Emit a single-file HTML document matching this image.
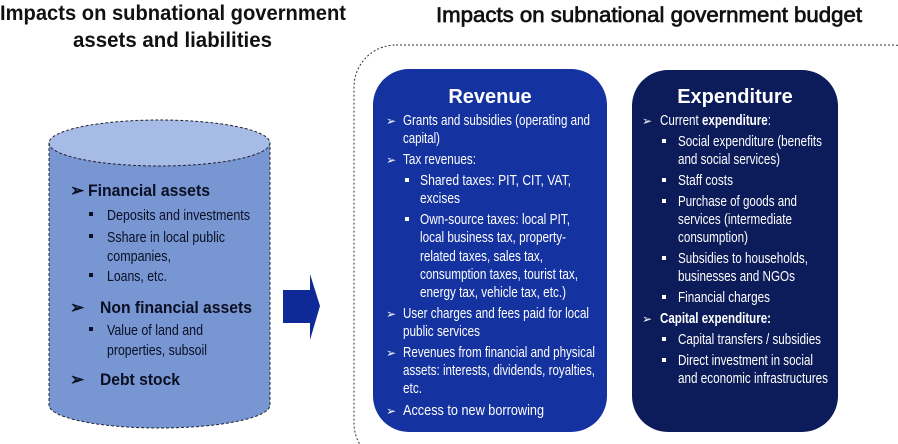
<!DOCTYPE html>
<html><head><meta charset="utf-8"><style>body{margin:0;background:#fff}svg{display:block}text{font-family:"Liberation Sans",sans-serif}</style></head><body>
<svg width="898" height="444" viewBox="0 0 898 444" xmlns="http://www.w3.org/2000/svg">
<g font-weight="bold" font-size="21" fill="#111">
<text x="0" y="20" textLength="346" lengthAdjust="spacingAndGlyphs">Impacts on subnational government</text>
<text x="73" y="47" textLength="199" lengthAdjust="spacingAndGlyphs">assets and liabilities</text>
<text x="436" y="22" textLength="426" lengthAdjust="spacingAndGlyphs" font-weight="normal" stroke="#111" stroke-width="0.7">Impacts on subnational government budget</text>
</g>
<rect x="354" y="45" width="580" height="420" rx="42" fill="none" stroke="#333" stroke-width="1" stroke-dasharray="2,2"/>
<path d="M49,143 L49,405 A110.5,23 0 0 0 270,405 L270,143 Z" fill="#7896d2" stroke="#223" stroke-width="1" stroke-dasharray="3,2"/>
<ellipse cx="159.5" cy="143" rx="110.5" ry="23" fill="#a6bbe6" stroke="#223" stroke-width="1" stroke-dasharray="3,2"/>
<path d="M283,290 L310,290 L310,274 L320,306 L310,340 L310,323 L283,323 Z" fill="#0f2a96"/>
<g fill="#0a0f24">
<g font-weight="bold" font-size="17">
<text x="70" y="196">➢</text><text x="88" y="196" textLength="122" lengthAdjust="spacingAndGlyphs">Financial assets</text>
<text x="70" y="313">➢</text><text x="100" y="313" textLength="152" lengthAdjust="spacingAndGlyphs">Non financial assets</text>
<text x="70" y="385">➢</text><text x="100" y="385" textLength="80" lengthAdjust="spacingAndGlyphs">Debt stock</text>
</g>
<g font-size="14.5">
<rect x="89" y="212" width="4" height="4"/><text x="107" y="220" textLength="143" lengthAdjust="spacingAndGlyphs">Deposits and investments</text>
<rect x="89" y="234" width="4" height="4"/><text x="107" y="242" textLength="118" lengthAdjust="spacingAndGlyphs">Sshare in local public</text>
<text x="107" y="261" textLength="64" lengthAdjust="spacingAndGlyphs">companies,</text>
<rect x="89" y="273" width="4" height="4"/><text x="107" y="281" textLength="60" lengthAdjust="spacingAndGlyphs">Loans, etc.</text>
<rect x="89" y="327" width="4" height="4"/><text x="107" y="335" textLength="96" lengthAdjust="spacingAndGlyphs">Value of land and</text>
<text x="107" y="355" textLength="100" lengthAdjust="spacingAndGlyphs">properties, subsoil</text>
</g></g>
<rect x="373" y="69" width="234" height="363" rx="36" fill="#1432a0"/>
<rect x="632" y="70" width="206" height="362" rx="36" fill="#0c1c5a"/>
<g fill="#fff">
<text x="490" y="103" text-anchor="middle" font-weight="bold" font-size="20">Revenue</text>
<text x="735" y="103" text-anchor="middle" font-weight="bold" font-size="20">Expenditure</text>
<g font-size="15">
<g font-size="12"><text x="386" y="125">➢</text><text x="386" y="164">➢</text><text x="386" y="318">➢</text><text x="386" y="357">➢</text><text x="386" y="415">➢</text>
<text x="642" y="125">➢</text><text x="642" y="323">➢</text></g>
<rect x="405" y="178" width="4" height="4"/><rect x="405" y="217" width="4" height="4"/>
<rect x="662" y="139" width="4" height="4"/><rect x="662" y="178" width="4" height="4"/><rect x="662" y="199" width="4" height="4"/><rect x="662" y="256" width="4" height="4"/><rect x="662" y="295" width="4" height="4"/><rect x="662" y="337" width="4" height="4"/><rect x="662" y="358" width="4" height="4"/>
<text x="403" y="125" textLength="187" lengthAdjust="spacingAndGlyphs">Grants and subsidies (operating and</text>
<text x="403" y="143" textLength="37" lengthAdjust="spacingAndGlyphs">capital)</text>
<text x="403" y="164" textLength="73" lengthAdjust="spacingAndGlyphs">Tax revenues:</text>
<text x="420" y="185" textLength="151" lengthAdjust="spacingAndGlyphs">Shared taxes: PIT, CIT, VAT,</text>
<text x="420" y="203" textLength="40" lengthAdjust="spacingAndGlyphs">excises</text>
<text x="420" y="224" textLength="150" lengthAdjust="spacingAndGlyphs">Own-source taxes: local PIT,</text>
<text x="420" y="242" textLength="146" lengthAdjust="spacingAndGlyphs">local business tax, property-</text>
<text x="420" y="261" textLength="123" lengthAdjust="spacingAndGlyphs">related taxes, sales tax,</text>
<text x="420" y="279" textLength="158" lengthAdjust="spacingAndGlyphs">consumption taxes, tourist tax,</text>
<text x="420" y="297" textLength="146" lengthAdjust="spacingAndGlyphs">energy tax, vehicle tax, etc.)</text>
<text x="403" y="318" textLength="186" lengthAdjust="spacingAndGlyphs">User charges and fees paid for local</text>
<text x="403" y="336" textLength="77" lengthAdjust="spacingAndGlyphs">public services</text>
<text x="403" y="357" textLength="192" lengthAdjust="spacingAndGlyphs">Revenues from financial and physical</text>
<text x="403" y="375" textLength="192" lengthAdjust="spacingAndGlyphs">assets: interests, dividends, royalties,</text>
<text x="403" y="393" textLength="19" lengthAdjust="spacingAndGlyphs">etc.</text>
<text x="403" y="415" textLength="141" lengthAdjust="spacingAndGlyphs">Access to new borrowing</text>
<text x="660" y="125" textLength="111" lengthAdjust="spacingAndGlyphs">Current <tspan font-weight="bold">expenditure</tspan>:</text>
<text x="678" y="146" textLength="144" lengthAdjust="spacingAndGlyphs">Social expenditure (benefits</text>
<text x="678" y="164" textLength="102" lengthAdjust="spacingAndGlyphs">and social services)</text>
<text x="678" y="185" textLength="55" lengthAdjust="spacingAndGlyphs">Staff costs</text>
<text x="678" y="206" textLength="119" lengthAdjust="spacingAndGlyphs">Purchase of goods and</text>
<text x="678" y="224" textLength="114" lengthAdjust="spacingAndGlyphs">services (intermediate</text>
<text x="678" y="242" textLength="70" lengthAdjust="spacingAndGlyphs">consumption)</text>
<text x="678" y="263" textLength="130" lengthAdjust="spacingAndGlyphs">Subsidies to households,</text>
<text x="678" y="281" textLength="117" lengthAdjust="spacingAndGlyphs">businesses and NGOs</text>
<text x="678" y="302" textLength="92" lengthAdjust="spacingAndGlyphs">Financial charges</text>
<text x="660" y="323" textLength="111" lengthAdjust="spacingAndGlyphs" font-weight="bold">Capital expenditure:</text>
<text x="678" y="344" textLength="143" lengthAdjust="spacingAndGlyphs">Capital transfers / subsidies</text>
<text x="678" y="365" textLength="135" lengthAdjust="spacingAndGlyphs">Direct investment in social</text>
<text x="678" y="383" textLength="150" lengthAdjust="spacingAndGlyphs">and economic infrastructures</text>
</g></g>
</svg>
</body></html>
